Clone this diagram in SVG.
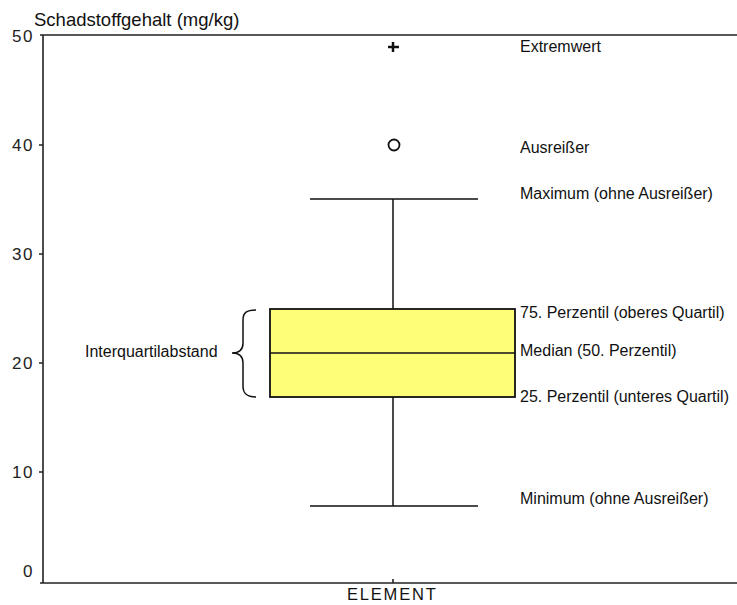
<svg xmlns="http://www.w3.org/2000/svg" width="737" height="605" viewBox="0 0 737 605">
<style>
.ax{stroke:#222;stroke-width:1.6;fill:none}
.ln{stroke:#111;stroke-width:1.5;fill:none}
.t{font-family:"Liberation Sans",Arial,sans-serif;font-size:16px;fill:#111}
.tk{font-family:"Liberation Sans",Arial,sans-serif;font-size:17px;fill:#222;text-anchor:end;letter-spacing:1.5px}
</style>
<rect width="737" height="605" fill="#fff"/>
<g id="axes">
<path class="ax" d="M40 35H737M43 35V583M40 583H737"/>
<path class="ax" d="M39 145H43M39 254H43M39 363H43M39 472H43M393 583V579"/>
<text class="tk" x="34" y="42">50</text>
<text class="tk" x="34" y="151">40</text>
<text class="tk" x="34" y="260">30</text>
<text class="tk" x="34" y="369">20</text>
<text class="tk" x="34" y="478">10</text>
<text class="tk" x="34" y="577">0</text>
<text class="t" x="34" y="26" style="font-size:18.5px">Schadstoffgehalt (mg/kg)</text>
<text class="t" x="347" y="600" style="font-size:16.5px;letter-spacing:1.8px">ELEMENT</text>
</g>
<g id="connectors">
<path class="ln" d="M393 199V309M393 397V506M310 199H478M310 506H478"/>
</g>
<g id="box">
<rect x="270" y="309" width="245" height="88" fill="#ffff77" stroke="#111" stroke-width="1.8"/>
<path class="ln" d="M270 353H515"/>
</g>
<g id="outliers">
<path d="M388 47H399M393 42V52" stroke="#111" stroke-width="2.5"/>
<circle cx="394" cy="145" r="5.5" fill="none" stroke="#111" stroke-width="1.8"/>
</g>
<g id="brace">
<path class="ln" d="M256 310C246 310 243 313 243 320V343C243 349 240 353 232 353C240 353 243 357 243 363V386C243 393 246 397 256 397"/>
<text class="t" x="85" y="357">Interquartilabstand</text>
</g>
<g id="labels">
<text class="t" x="520" y="52">Extremwert</text>
<text class="t" x="520" y="153">Ausreißer</text>
<text class="t" x="520" y="199">Maximum (ohne Ausreißer)</text>
<text class="t" x="520" y="318">75. Perzentil (oberes Quartil)</text>
<text class="t" x="520" y="356">Median (50. Perzentil)</text>
<text class="t" x="520" y="402">25. Perzentil (unteres Quartil)</text>
<text class="t" x="520" y="504">Minimum (ohne Ausreißer)</text>
</g>
</svg>
